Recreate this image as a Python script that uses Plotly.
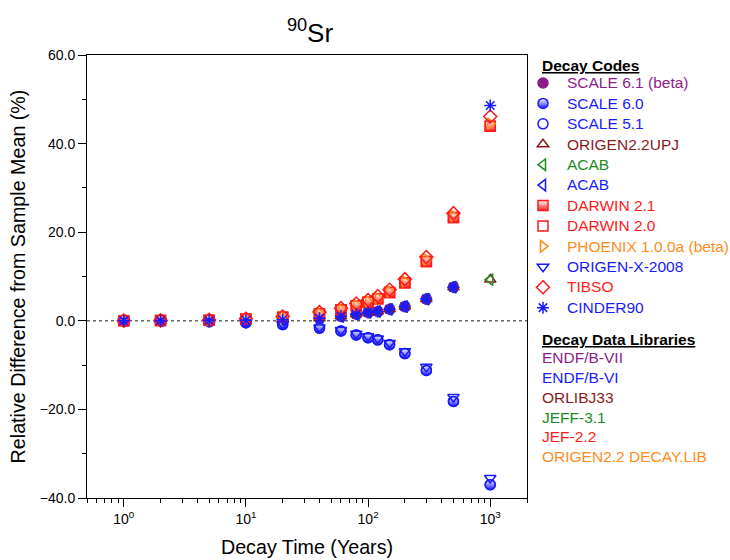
import plotly.graph_objects as go

# Decay times (years)
times = [1, 2, 5, 10, 20, 40, 60, 80, 100, 120, 150, 200, 300, 500, 1000]

# Relative difference from the sample mean (%) for each decay code
scale61 = [0.0, 0.02, 0.05, 0.12, 0.25, 0.6, 1.0, 1.5, 1.9, 2.1, 2.6, 3.2, 4.9, 7.6, None]
scale60 = [-0.05, -0.1, -0.2, -0.42, -0.85, -1.65, -2.3, -3.2, -3.8, -4.3, -5.4, -7.4, -11.2, -18.2, -37.0]
scale51 = [-0.05, -0.1, -0.2, -0.42, -0.85, -1.65, -2.3, -3.2, -3.8, -4.3, -5.4, -7.4, -11.2, -18.2, -37.0]
origen22upj = [0.0, 0.02, 0.05, 0.12, 0.25, 0.6, 1.0, 1.5, 1.9, 2.1, 2.6, 3.2, 4.9, 7.6, 9.3]
acab_jeff = [0.0, 0.02, 0.05, 0.12, 0.25, 0.6, 1.0, 1.5, 1.9, 2.1, 2.6, 3.2, 4.9, 7.6, 9.3]
acab_endf = [0.0, 0.02, 0.05, 0.12, 0.25, 0.6, 1.0, 1.5, 1.9, 2.1, 2.6, 3.2, 4.9, 7.6, None]
darwin21 = [0.03, 0.07, 0.15, 0.38, 0.8, 1.6, 2.5, 3.4, 4.2, 5.0, 6.4, 8.6, 13.4, 23.3, 43.9]
darwin20 = [0.03, 0.07, 0.15, 0.38, 0.8, 1.6, 2.5, 3.4, 4.2, 5.0, 6.4, 8.6, 13.4, 23.3, 43.9]
phoenix = [0.04, 0.08, 0.17, 0.4, 0.85, 1.7, 2.6, 3.6, 4.4, 5.2, 6.6, 8.9, 13.8, 23.7, 44.5]
origenx2008 = [-0.04, -0.08, -0.18, -0.38, -0.75, -1.5, -2.1, -2.9, -3.5, -4.0, -5.0, -6.9, -10.4, -17.2, -35.5]
tibso = [0.05, 0.1, 0.2, 0.45, 0.95, 1.96, 2.86, 3.9, 4.7, 5.6, 7.0, 9.4, 14.4, 24.3, 46.1]
cinder90 = [0.0, 0.02, 0.05, 0.12, 0.25, 0.6, 1.0, 1.5, 1.9, 2.1, 2.6, 3.2, 4.9, 7.6, 48.6]

# Library names and their colours
libraries = ["ENDF/B-VII", "ENDF/B-VI", "ORLIBJ33", "JEFF-3.1", "JEF-2.2", "ORIGEN2.2 DECAY.LIB"]

PURPLE = "#8B1C8B"
BLUE = "#1A1AFF"
DKRED = "#8B1A1A"
GREEN = "#1E8B1E"
RED = "#FF1A1A"
ORANGE = "#FF8C1A"
lib_colors = [PURPLE, BLUE, DKRED, GREEN, RED, ORANGE]

FONT = "Liberation Sans, Arial, Helvetica, sans-serif"
KEY_SIZE = 15.5

# (label, values, symbol, colour, half-filled)
series = [
    ("SCALE 6.1 (beta)", scale61, "circle", PURPLE, False),
    ("SCALE 6.0", scale60, "circle", BLUE, True),
    ("SCALE 5.1", scale51, "circle-open", BLUE, False),
    ("ORIGEN2.2UPJ", origen22upj, "triangle-up-open", DKRED, False),
    ("ACAB", acab_jeff, "triangle-left-open", GREEN, False),
    ("ACAB", acab_endf, "triangle-left-open", BLUE, False),
    ("DARWIN 2.1", darwin21, "square", RED, True),
    ("DARWIN 2.0", darwin20, "square-open", RED, False),
    ("PHOENIX 1.0.0a (beta)", phoenix, "triangle-right-open", ORANGE, False),
    ("ORIGEN-X-2008", origenx2008, "triangle-down-open", BLUE, False),
    ("TIBSO", tibso, "diamond-open", RED, False),
    ("CINDER90", cinder90, "asterisk-open", BLUE, False),
]

fig = go.Figure()
for label, vals, sym, col, half in series:
    marker = dict(symbol=sym, size=10, color=col, line=dict(color=col, width=1.5))
    if half:
        # white top half, coloured bottom half
        marker["color"] = "white"
        marker["gradient"] = dict(type="vertical", color=col)
    fig.add_trace(go.Scatter(
        x=times, y=vals, mode="markers", marker=marker,
        name=f'<span style="color:{col};font-size:{KEY_SIZE}px">{label}</span>',
    ))

# plot-area geometry in pixels
W, H = 730, 560
L, R, T, B = 87, 527, 55, 498


def px_x(px):
    return (px - L) / (R - L)


def px_y(py):
    return (B - py) / (B - T)


xr = [-0.301, 3.301]
major_x = [1, 10, 100, 1000]

fig.update_layout(
    width=W, height=H,
    margin=dict(l=L, r=W - R, t=T, b=H - B, autoexpand=False),
    paper_bgcolor="white", plot_bgcolor="white",
    font=dict(family=FONT, size=14, color="black"),
    title=dict(text="<sup>90</sup>Sr", x=px_x(310), xref="paper",
               y=1 - 33 / H, yanchor="middle", xanchor="center",
               font=dict(size=26, family=FONT)),
    xaxis=dict(
        type="log", range=xr, showgrid=False, zeroline=False, automargin=False,
        showline=True, linecolor="black", linewidth=1, mirror=True,
        ticks="outside", ticklen=8, tickcolor="black",
        tickvals=major_x,
        ticktext=["10<sup>0</sup>", "10<sup>1</sup>", "10<sup>2</sup>", "10<sup>3</sup>"],
        tickfont=dict(size=14),
        minor=dict(ticks="outside", ticklen=4, tickcolor="black", dtick="D1", showgrid=False),
        title=dict(text="Decay Time (Years)", font=dict(size=19.7), standoff=14),
    ),
    yaxis=dict(
        range=[-40, 60], showgrid=False, zeroline=False, automargin=False,
        showline=True, linecolor="black", linewidth=1, mirror=True,
        ticks="outside", ticklen=8, tickcolor="black",
        tick0=-40, dtick=20, tickformat=".1f",
        tickfont=dict(size=14),
        minor=dict(ticks="outside", ticklen=4, tickcolor="black", dtick=10, showgrid=False),
        title=dict(text="Relative Difference from Sample Mean (%)", font=dict(size=19.7), standoff=8),
    ),
    xaxis2=dict(
        type="log", range=xr, overlaying="x", anchor="y", side="top", automargin=False,
        showgrid=False, zeroline=False, showline=False, showticklabels=False,
        ticks="inside", ticklen=6, tickcolor="black", tickvals=major_x,
        minor=dict(ticks="inside", ticklen=3, tickcolor="black", dtick="D1", showgrid=False),
    ),
    yaxis2=dict(
        range=[-40, 60], overlaying="y", anchor="x", side="right", automargin=False,
        showgrid=False, zeroline=False, showline=False, showticklabels=False,
        ticks="inside", ticklen=6, tickcolor="black", tick0=-40, dtick=20,
        minor=dict(ticks="inside", ticklen=3, tickcolor="black", dtick=10, showgrid=False),
    ),
    legend=dict(
        x=px_x(519), y=px_y(67.8), xanchor="left", yanchor="top",
        font=dict(size=13.4, family=FONT), bgcolor="rgba(0,0,0,0)",
        tracegroupgap=0, itemwidth=38,
    ),
    showlegend=True,
)

# dotted reference line at zero
fig.add_shape(type="line", xref="paper", x0=0, x1=1, yref="y", y0=0, y1=0,
              line=dict(color="#666666", width=1.5, dash="dot"), layer="below")

# section headers of the key
headers = [("Decay Codes", 66), ("Decay Data Libraries", 339)]
for text, py in headers:
    fig.add_annotation(text=f"<b><u>{text}</u></b>", xref="paper", yref="paper",
                       x=px_x(540), y=px_y(py), xanchor="left", yanchor="middle",
                       showarrow=False, font=dict(size=KEY_SIZE, family=FONT))

# decay data library key
lib_y = [357, 377, 397, 417, 436, 456]
for name, col, py in zip(libraries, lib_colors, lib_y):
    fig.add_annotation(text=name, xref="paper", yref="paper",
                       x=px_x(540), y=px_y(py), xanchor="left", yanchor="middle",
                       showarrow=False, font=dict(size=KEY_SIZE, family=FONT, color=col))

fig.write_html("out.html")
